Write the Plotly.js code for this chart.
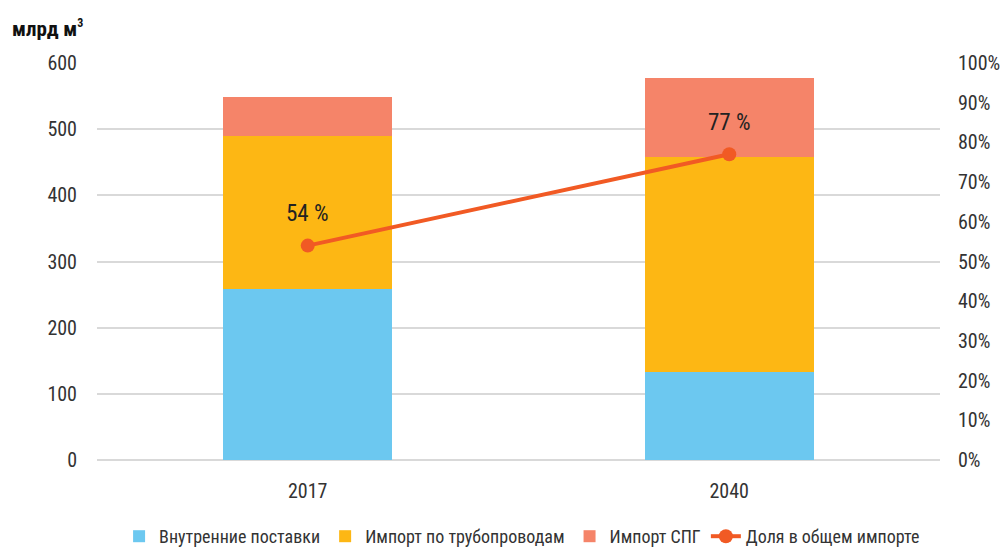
<!DOCTYPE html>
<html>
<head>
<meta charset="utf-8">
<script src="https://cdn.plot.ly/plotly-3.0.1.min.js"></script>
<style>
  html, body { margin: 0; padding: 0; background: #fff; }
  #chart { width: 1004px; height: 555px; }
</style>
</head>
<body>
<div id="chart"></div>
<script>
'use strict';

// data
const years = ['2017', '2040'];
const domestic = [258, 133];
const pipeline = [232, 325];
const lng = [58, 119];
const importShare = [54, 77];
const shareLabels = ['54 %', '77 %'];

const FONT = 'Roboto Condensed, Liberation Sans Narrow, Roboto, sans-serif';
const TEXT = '#333333';

const traces = [];

traces.push({
  x: years,
  y: domestic,
  name: 'Внутренние поставки',
  type: 'bar',
  marker: { color: '#6CC8F0' },
  hoverinfo: 'skip'
});
traces.push({
  x: years,
  y: pipeline,
  name: 'Импорт по трубопроводам',
  type: 'bar',
  marker: { color: '#FDB714' },
  hoverinfo: 'skip'
});
traces.push({
  x: years,
  y: lng,
  name: 'Импорт СПГ',
  type: 'bar',
  marker: { color: '#F58469' },
  hoverinfo: 'skip'
});
traces.push({
  x: years,
  y: importShare,
  name: 'Доля в общем импорте',
  type: 'scatter',
  mode: 'lines+markers',
  yaxis: 'y2',
  line: { color: '#F15A24', width: 4 },
  marker: { color: '#F15A24', size: 14 },
  hoverinfo: 'skip'
});

// percentage labels above the markers (x given as category index)
const annotations = years.map((yr, i) => ({
  x: i,
  y: importShare[i],
  xref: 'x',
  yref: 'y2',
  text: shareLabels[i],
  showarrow: false,
  yshift: 32,
  font: { family: FONT, size: 23, color: '#222222' }
}));

// unit label, top left
annotations.push({
  x: -0.103,
  y: 1.088,
  xref: 'paper',
  yref: 'paper',
  xanchor: 'left',
  yanchor: 'middle',
  text: '<b>млрд м<sup><span style="font-size:12px">3</span></sup></b>',
  showarrow: false,
  font: { family: FONT, size: 21, color: '#111111' }
});

const layout = {
  width: 1004,
  height: 555,
  margin: { l: 97, r: 64, t: 63, b: 95 },
  paper_bgcolor: '#ffffff',
  plot_bgcolor: '#ffffff',
  barmode: 'stack',
  bargap: 0.6,
  font: { family: FONT, size: 20, color: TEXT },
  showlegend: true,
  legend: {
    orientation: 'h',
    xref: 'container',
    yref: 'container',
    x: 0.52,
    xanchor: 'center',
    y: -0.012,
    yanchor: 'bottom',
    traceorder: 'normal',
    font: { family: FONT, size: 18, color: TEXT }
  },
  xaxis: {
    type: 'category',
    range: [-0.5, 1.5],
    showgrid: false,
    showline: false,
    zeroline: false,
    ticks: '',
    ticklabelstandoff: 17,
    tickfont: { family: FONT, size: 20, color: TEXT },
    fixedrange: true
  },
  yaxis: {
    range: [0, 600],
    dtick: 100,
    showgrid: true,
    gridcolor: '#d9d9d9',
    gridwidth: 2,
    zeroline: true,
    zerolinecolor: '#d9d9d9',
    zerolinewidth: 2,
    showline: false,
    ticks: '',
    ticklabelstandoff: 19,
    tickfont: { family: FONT, size: 20, color: TEXT },
    fixedrange: true
  },
  yaxis2: {
    overlaying: 'y',
    side: 'right',
    range: [0, 100],
    dtick: 10,
    ticksuffix: '%',
    showgrid: false,
    zeroline: false,
    showline: false,
    ticks: '',
    ticklabelstandoff: 17,
    tickfont: { family: FONT, size: 20, color: TEXT },
    fixedrange: true
  },
  annotations: annotations
};

Plotly.newPlot('chart', traces, layout, { displayModeBar: false, staticPlot: true });
</script>
</body>
</html>
